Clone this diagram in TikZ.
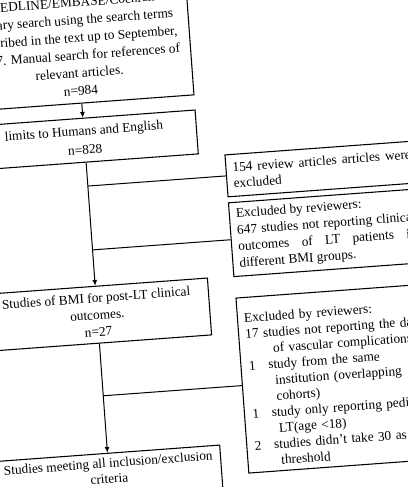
\documentclass[tikz,border=0pt]{standalone}
\usepackage{fontspec}
\setmainfont{Liberation Serif}
\usetikzlibrary{arrows.meta,positioning}
\tikzset{
  box/.style={draw=black, line width=0.8pt, align=center, inner sep=0pt, minimum width=168.75pt, font=\fontsize{10}{12.6}\selectfont},
  sidebox/.style={draw=black, line width=0.8pt, align=justify, text width=134pt, inner xsep=5pt, inner ysep=0pt, anchor=west, font=\fontsize{10}{12.2}\selectfont, execute at begin node={\tolerance=10000\hyphenpenalty=10000}},
  listbox/.style={sidebox, align=left, text width=150pt},
  arrow/.style={-{Latex[length=1.5mm,width=1.3mm]}, line width=0.75pt},
  branch/.style={line width=0.75pt}
}

\begin{document}
\begin{tikzpicture}[x=0.75pt, y=-0.75pt]
\useasboundingbox (0,0) rectangle (408,487);
\clip (0,0) rectangle (408,487);
\begin{scope}[rotate=4.2, transform shape]
% main column
\node[box, minimum height=85.2pt, font=\fontsize{10}{13.3}\selectfont] (search) at (74,52) {MEDLINE/EMBASE/Cochrane\\library search using the search terms\\described in the text up to September,\\2017. Manual search for references of\\relevant articles.\\n=984};
\node[box, minimum height=33pt, font=\fontsize{10}{14.3}\selectfont] (limits) at (74,146) {limits to Humans and English\\n=828};
\node[box, minimum height=42.75pt, font=\fontsize{10}{12.8}\selectfont] (bmi) at (74,321) {Studies of BMI for post-LT clinical\\outcomes.\\n=27};
\node[box, minimum height=33.75pt, text depth=7.6pt, font=\fontsize{10}{11.8}\selectfont] (final) at (74,482.5) {Studies meeting all inclusion/exclusion\\criteria};
% excluded
\node[sidebox, minimum height=31.5pt, font=\fontsize{10}{12}\selectfont] (reviews) at (212.5,192) {154 review articles articles were excluded};
\node[sidebox, minimum height=55.5pt, font=\fontsize{10}{12.45}\selectfont] (outcomes) at (212.5,256) {Excluded by reviewers:\\647 studies not reporting clinical\linebreak outcomes of LT patients in\linebreak different BMI groups.};
\node[listbox, minimum height=131.6pt, font=\fontsize{10}{12}\selectfont] (others) at (213,402.3) {\rule{0pt}{14pt}Excluded by reviewers:\\
17 studies not reporting the data\\
\hspace*{20pt}of vascular complications\\
\hspace*{1pt}\makebox[14.5pt][l]{1}study from the same\\
\hspace*{20pt}institution (overlapping\\
\hspace*{20pt}cohorts)\\
\hspace*{1pt}\makebox[14.5pt][l]{1}study only reporting pediatric\\
\hspace*{20pt}LT(age <18)\\
\hspace*{1pt}\makebox[14.5pt][l]{2}studies didn't take 30 as BMI\\
\hspace*{20pt}threshold};
\coordinate (fork1) at (74,192);
\coordinate (fork2) at (74,256);
\coordinate (fork3) at (74,402.3);
\draw[arrow] (search.south) -- (limits.north);
\draw[arrow] (limits.south) -- (bmi.north);
\draw[arrow] (bmi.south) -- (final.north);
\draw[branch] (fork1) -- (reviews.west);
\draw[branch] (fork2) -- (outcomes.west);
\draw[branch] (fork3) -- (others.west);
\end{scope}
\end{tikzpicture}
\end{document}
